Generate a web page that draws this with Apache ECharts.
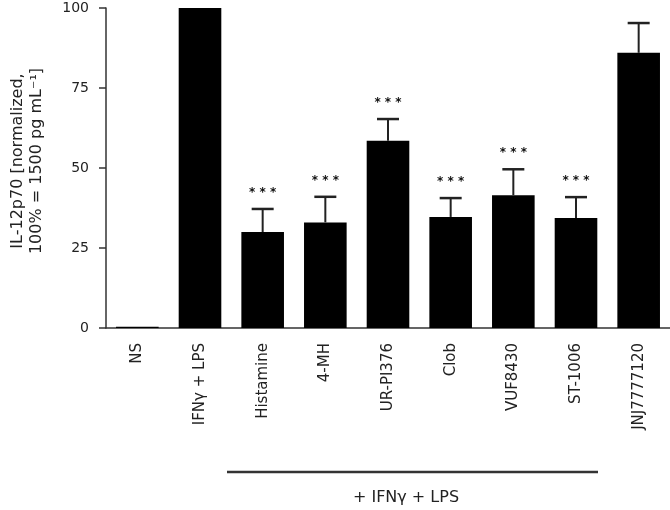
<!DOCTYPE html>
<html><head><meta charset="utf-8">
<script src="https://cdn.jsdelivr.net/npm/echarts@6/dist/echarts.min.js"></script>
<style>html,body{margin:0;padding:0;background:#fff}#c{width:670px;height:510px}</style>
</head><body><div id="c"></div>
<script>
var categories = ['NS', 'IFNγ + LPS', 'Histamine', '4-MH', 'UR-PI376', 'Clob', 'VUF8430', 'ST-1006', 'JNJ7777120'];
var means = [0.4, 100, 30, 33, 58.5, 34.7, 41.5, 34.4, 86];
var sem = [0, 0, 7.2, 8, 6.8, 5.9, 8.1, 6.5, 9.3];
var stars = ['', '', '***', '***', '***', '***', '***', '***', ''];
var yTicks = [0, 25, 50, 75, 100];
var groupLabel = '+ IFNγ + LPS';

var font = 'DejaVu Sans';
var chart = echarts.init(document.getElementById('c'));
var errData = means.map(function (m, i) { return [i, m, m + sem[i], stars[i], sem[i]]; });

chart.setOption({
  animation: false,
  grid: { left: 99, right: 0, top: 8, bottom: 182 },
  xAxis: {
    type: 'category', data: categories,
    axisLine: { lineStyle: { color: '#333', width: 1.5 } },
    axisTick: { show: false },
    axisLabel: { interval: 0, rotate: 90, margin: 15, fontFamily: font, fontSize: 15, color: '#222' }
  },
  yAxis: {
    type: 'value', min: 0, max: 100, interval: 25,
    splitLine: { show: false },
    axisLine: { show: true, lineStyle: { color: '#333', width: 1.5 } },
    axisTick: { show: true, length: 7, lineStyle: { color: '#333', width: 1.5 } },
    axisLabel: { fontFamily: font, fontSize: 14, color: '#222', margin: 17,
      formatter: function (v) { return yTicks.indexOf(v) >= 0 ? String(v) : ''; } },
    name: 'IL-12p70 [normalized,\n100% = 1500 pg mL⁻¹]',
    nameLocation: 'middle', nameGap: 60, nameRotate: 90,
    nameTextStyle: { fontFamily: font, fontSize: 16, color: '#222', lineHeight: 19, padding: [0, 0, 0, 14] }
  },
  series: [
    { type: 'bar', data: means, barWidth: '68%', itemStyle: { color: '#000' } },
    {
      type: 'custom', data: errData, z: 5,
      renderItem: function (params, api) {
        if (api.value(4) <= 0) return null;
        var base = api.coord([api.value(0), api.value(1)]);
        var top = api.coord([api.value(0), api.value(2)]);
        var hw = 11;
        var children = [
          { type: 'line', shape: { x1: base[0], y1: base[1], x2: top[0], y2: top[1] }, style: { stroke: '#222', lineWidth: 2 } },
          { type: 'line', shape: { x1: top[0] - hw, y1: top[1], x2: top[0] + hw, y2: top[1] }, style: { stroke: '#222', lineWidth: 2.5 } }
        ];
        var s = api.value(3);
        if (s) {
          children.push({ type: 'text', x: top[0], y: top[1] - 16,
            style: { text: '* * *', font: 'bold 12px ' + font, fill: '#111', align: 'center', verticalAlign: 'middle' } });
        }
        return { type: 'group', children: children };
      }
    }
  ],
  graphic: [
    { type: 'line', shape: { x1: 227, y1: 472, x2: 598, y2: 472 }, style: { stroke: '#333', lineWidth: 2.5 } },
    { type: 'text', x: 406, y: 498, style: { text: groupLabel, font: '16px ' + font, fill: '#222', align: 'center', verticalAlign: 'middle' } }
  ]
});
</script></body></html>
